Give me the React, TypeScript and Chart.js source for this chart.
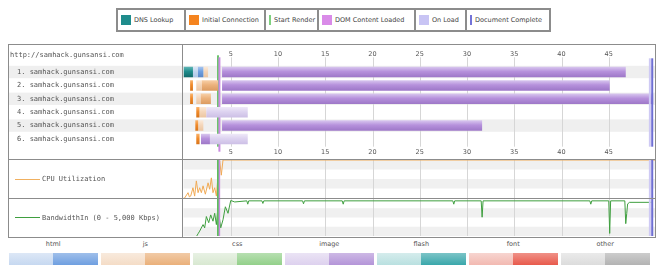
import React, { useEffect, useRef } from 'react';
import { Chart, registerables } from 'chart.js';

Chart.register(...registerables);

// ---------------- data ----------------
const pageUrl = 'http://samhack.gunsansi.com';
const rowLabels = [
  '1. samhack.gunsansi.com',
  '2. samhack.gunsansi.com',
  '3. samhack.gunsansi.com',
  '4. samhack.gunsansi.com',
  '5. samhack.gunsansi.com',
  '6. samhack.gunsansi.com',
];
const timeTicks = [5, 10, 15, 20, 25, 30, 35, 40, 45];
const timeMin = 0;
const timeMax = 50;

type Span = [number, number] | null;
const dnsLookup: Span[] = [[0, 1.0], null, null, null, null, null];
const initialConnection: Span[] = [null, [0.7, 1.0], [0.7, 1.0], [1.35, 1.7], [1.25, 1.55], [1.35, 1.7]];
const htmlTtfb: Span[] = [[1.0, 1.5], null, null, null, null, null];
const htmlDownload: Span[] = [[1.5, 2.1], null, null, null, null, null];
const jsTtfb: Span[] = [[2.1, 2.6], [1.35, 1.9], [1.35, 1.8], [1.75, 2.4], [1.55, 2.1], null];
const jsDownload: Span[] = [null, [1.9, 3.65], [1.8, 2.9], null, null, null];
const imageTtfb: Span[] = [null, null, null, [2.4, 6.8], null, [2.8, 6.8]];
const imageDownload: Span[] = [[4.08, 46.8], [4.08, 45.1], [4.08, 49.7], null, [4.08, 31.6], [1.85, 2.8]];

const startRender = 3.65;
const domContentLoaded = 3.8;
const onLoadTime = 49.35;
const documentComplete = 49.6;

const cpuTimes = [0, 0.12, 0.48, 0.62, 0.76, 1.0, 1.18, 1.36, 1.54, 1.71, 1.89, 2.07, 2.31, 2.6, 2.77, 2.95, 3.12, 3.3, 3.48, 3.65, 3.83, 4.0, 4.18, 50];
const cpuValues = [0, 0, 14, 3, 5, 27, 5, 45, 14, 27, 14, 32, 10, 40, 23, 53, 14, 27, 5, 58, 98, 60, 100, 100];
const cpuMax = 100;

const bwTimes = [1.4, 1.54, 1.71, 2.07, 2.24, 2.42, 2.67, 2.88, 3.12, 3.3, 3.48, 3.65, 3.94, 4.18, 4.43, 4.71, 5.0, 5.42, 6.7, 6.8, 6.9, 8.3, 8.4, 8.5, 12.6, 12.7, 12.8, 16.8, 16.9, 17.0, 28.5, 28.6, 28.7, 31.5, 31.6, 31.7, 43.0, 43.1, 43.2, 45.0, 45.1, 45.2, 46.7, 46.8, 46.9, 47.0, 47.2, 49.5];
const bwValues = [0, 300, 660, 1540, 1100, 2630, 1800, 2850, 2000, 3070, 1540, 3950, 1100, 2200, 3950, 3070, 4800, 4600, 4750, 4300, 4750, 4750, 4400, 4750, 4750, 4350, 4750, 4750, 4300, 4750, 4750, 4300, 4750, 4750, 2540, 4750, 4750, 4300, 4750, 4750, 350, 4750, 4750, 1670, 3030, 4340, 4550, 4550];
const bwMax = 5000;

const topLegend = [
  { label: 'DNS Lookup', color: '#1f8c8c', kind: 'box' },
  { label: 'Initial Connection', color: '#f5841f', kind: 'box' },
  { label: 'Start Render', color: '#7fd07f', kind: 'line' },
  { label: 'DOM Content Loaded', color: '#d98be8', kind: 'box' },
  { label: 'On Load', color: '#c8c4f4', kind: 'box' },
  { label: 'Document Complete', color: '#7373d8', kind: 'line' },
];
const topLegendWidths = [66, 80, 53, 97, 51, 84];

const typeLegend = [
  { label: 'html', light: '#c6d8f0', dark: '#6f9fe0' },
  { label: 'js', light: '#f4dcc6', dark: '#eab07a' },
  { label: 'css', light: '#d8e8d1', dark: '#93d08a' },
  { label: 'image', light: '#ddd1ee', dark: '#b495d8' },
  { label: 'flash', light: '#b9e0e0', dark: '#3aa7ab' },
  { label: 'font', light: '#f2b9b1', dark: '#e85a4c' },
  { label: 'other', light: '#dcdcdc', dark: '#b3b3b3' },
];

// ---------------- styles ----------------
const SANS = "'DejaVu Sans', Verdana, sans-serif";
const MONO = "'DejaVu Sans Mono', monospace";
const FRAME = '#8c8c8c';

function vline(ctx: any, x: number, top: number, bottom: number, color: string, width: number) {
  if (!isFinite(x)) return;
  ctx.save();
  ctx.strokeStyle = color;
  ctx.lineWidth = width;
  ctx.beginPath();
  ctx.moveTo(x, top);
  ctx.lineTo(x, bottom);
  ctx.stroke();
  ctx.restore();
}

const barFill = (light: string, base: string, dark: string) => (c: any) => {
  const chart = c.chart;
  const ys = chart.scales && chart.scales.y;
  if (!ys || c.dataIndex == null || c.type !== 'data') return base;
  const yc = ys.getPixelForValue(c.dataIndex);
  if (!isFinite(yc)) return base;
  const g = chart.ctx.createLinearGradient(0, yc - 5, 0, yc + 5);
  g.addColorStop(0, light);
  g.addColorStop(0.45, base);
  g.addColorStop(1, dark);
  return g;
};

const waterfallDecor = {
  id: 'waterfallDecor',
  beforeDraw(chart: any) {
    const { ctx, scales } = chart;
    const y = scales.y;
    const step = y.height / rowLabels.length;
    ctx.save();
    ctx.fillStyle = '#efefef';
    rowLabels.forEach((_, i) => {
      if (i % 2 === 0) {
        const c = y.getPixelForValue(i);
        ctx.fillRect(1, c - step / 2 + 0.5, chart.width - 1, step - 1);
      }
    });
    ctx.restore();
  },
  beforeDatasetsDraw(chart: any) {
    const { ctx, chartArea: a, scales } = chart;
    const x = scales.x;
    const top = a.top - 8;
    const bottom = a.bottom + 1;
    timeTicks.forEach((t) => vline(ctx, Math.round(x.getPixelForValue(t)) + 0.5, top, bottom, '#d6d6d6', 1));
    vline(ctx, x.getPixelForValue(startRender), top - 2, bottom, '#6cc46c', 2);
    vline(ctx, x.getPixelForValue(domContentLoaded), top, bottom + 5, '#c98ae0', 2);
  },
  afterDatasetsDraw(chart: any) {
    const { ctx, chartArea: a, scales } = chart;
    const x = scales.x;
    vline(ctx, x.getPixelForValue(onLoadTime), a.top - 7, a.bottom + 1, '#cfcaf4', 2);
    vline(ctx, x.getPixelForValue(documentComplete), a.top - 7, a.bottom + 1, '#6f6fd4', 2);
  },
};

const seriesDecor = (bandValues: number[], grayFirst: boolean) => ({
  id: 'seriesDecor',
  beforeDatasetsDraw(chart: any) {
    const { ctx, chartArea: a, scales } = chart;
    const x = scales.x;
    const y = scales.y;
    ctx.save();
    for (let i = 0; i < bandValues.length - 1; i++) {
      const gray = (i % 2 === 0) === grayFirst;
      if (!gray) continue;
      const y1 = y.getPixelForValue(bandValues[i]);
      const y2 = y.getPixelForValue(bandValues[i + 1]);
      ctx.fillStyle = '#f0f0f0';
      ctx.fillRect(a.left, y1, a.right - a.left, y2 - y1);
    }
    ctx.restore();
    timeTicks.forEach((t) => vline(ctx, Math.round(x.getPixelForValue(t)) + 0.5, a.top, a.bottom, '#d6d6d6', 1));
  },
  afterDatasetsDraw(chart: any) {
    const { ctx, chartArea: a, scales } = chart;
    const x = scales.x;
    vline(ctx, x.getPixelForValue(startRender), a.top, a.bottom, '#5cbf5c', 2);
    vline(ctx, x.getPixelForValue(domContentLoaded), a.top, a.bottom, '#c98ae0', 1.5);
    vline(ctx, x.getPixelForValue(onLoadTime), a.top, a.bottom, '#cfcaf4', 2);
    vline(ctx, x.getPixelForValue(documentComplete), a.top, a.bottom, '#6f6fd4', 2);
  },
});

const tickFont = { family: SANS, size: 6.5 };

function makeWaterfall(canvas: HTMLCanvasElement) {
  const ds = (label: string, data: Span[], light: string, base: string, dark: string) => ({
    label,
    data: data as any,
    backgroundColor: barFill(light, base, dark),
    borderWidth: 0,
    borderSkipped: false,
    grouped: false,
    barPercentage: 0.78,
    categoryPercentage: 1,
    xAxisID: 'x',
    yAxisID: 'y',
  });
  return new Chart(canvas, {
    type: 'bar',
    data: {
      labels: rowLabels,
      datasets: [
        ds('DNS Lookup', dnsLookup, '#5db5b5', '#1f8c8c', '#126c6c'),
        ds('Initial Connection', initialConnection, '#f9b26a', '#f08a2a', '#d8741a'),
        ds('html TTFB', htmlTtfb, '#dde8f6', '#c3d6ef', '#aec7e8'),
        ds('html', htmlDownload, '#a6c4ef', '#6f9fe0', '#5b88c8'),
        ds('js TTFB', jsTtfb, '#fbe9d8', '#f4d6ba', '#ecc6a2'),
        ds('js', jsDownload, '#f7cfa6', '#ecb27c', '#dc9c62'),
        ds('image TTFB', imageTtfb, '#eee8f8', '#ddd3f0', '#cdc0e6'),
        ds('image', imageDownload, '#d7c5ee', '#b691dc', '#9e78c8'),
      ],
    },
    options: {
      indexAxis: 'y',
      responsive: false,
      animation: false,
      events: [],
      layout: { padding: { left: 9, right: 0, top: 0, bottom: 0 } },
      plugins: { legend: { display: false }, tooltip: { enabled: false } },
      scales: {
        y: {
          type: 'category',
          position: 'left',
          grid: { display: false, drawTicks: false },
          border: { display: false },
          ticks: { crossAlign: 'far', padding: 0, autoSkip: false, font: { family: MONO, size: 7 }, color: '#555' },
          afterFit: (s: any) => { s.width = 166.5; },
        },
        x: {
          type: 'linear',
          position: 'top',
          min: timeMin,
          max: timeMax,
          grid: { display: false, drawTicks: false },
          border: { display: false },
          afterBuildTicks: (s: any) => { s.ticks = timeTicks.map((v) => ({ value: v })); },
          ticks: { padding: 6.6, maxRotation: 0, autoSkip: false, font: tickFont, color: '#555' },
          afterFit: (s: any) => { s.height = 20.3; },
        },
        x2: {
          type: 'linear',
          position: 'bottom',
          min: timeMin,
          max: timeMax,
          grid: { display: false, drawTicks: false },
          border: { display: false },
          afterBuildTicks: (s: any) => { s.ticks = timeTicks.map((v) => ({ value: v })); },
          ticks: { padding: 2.6, maxRotation: 0, autoSkip: false, font: tickFont, color: '#555' },
          afterFit: (s: any) => { s.height = 13.3; },
        },
      },
    } as any,
    plugins: [waterfallDecor],
  });
}

function makeSeries(canvas: HTMLCanvasElement, times: number[], values: number[], max: number, color: string, bands: number[], grayFirst: boolean, padTop: number, padBottom: number) {
  return new Chart(canvas, {
    type: 'line',
    data: {
      datasets: [
        {
          data: times.map((t, i) => ({ x: t, y: values[i] })),
          borderColor: color,
          borderWidth: 1,
          pointRadius: 0,
          tension: 0,
          fill: false,
        },
      ],
    },
    options: {
      responsive: false,
      animation: false,
      events: [],
      layout: { padding: { left: 175.5, right: 0, top: padTop, bottom: padBottom } },
      plugins: { legend: { display: false }, tooltip: { enabled: false } },
      scales: {
        x: { type: 'linear', min: timeMin, max: timeMax, display: false },
        y: { type: 'linear', min: 0, max, display: false },
      },
    } as any,
    plugins: [seriesDecor(bands, grayFirst)],
  });
}

const abs = (left: number, top: number, width: number, height: number, extra: any = {}) => ({
  position: 'absolute' as const, left, top, width, height, ...extra,
});

export default function App() {
  const wfRef = useRef<HTMLCanvasElement>(null);
  const cpuRef = useRef<HTMLCanvasElement>(null);
  const bwRef = useRef<HTMLCanvasElement>(null);

  useEffect(() => {
    const charts: Chart[] = [];
    if (wfRef.current) charts.push(makeWaterfall(wfRef.current));
    if (cpuRef.current) charts.push(makeSeries(cpuRef.current, cpuTimes, cpuValues, cpuMax, '#f0aa55', [100, 75, 50, 25, 0], true, 1, 0));
    if (bwRef.current) charts.push(makeSeries(bwRef.current, bwTimes, bwValues, bwMax, '#3f9f3f', [5000, 3750, 2500, 1250, 0], false, 1, 1));
    return () => charts.forEach((c) => c.destroy());
  }, []);

  return (
    <div style={{ position: 'absolute', left: 0, top: 0, width: 659, height: 275, background: '#fff', overflow: 'hidden' }}>
      {/* top legend */}
      <div style={{ position: 'absolute', left: 116, top: 8, height: 24, display: 'flex', border: `2px solid ${FRAME}`, boxSizing: 'border-box' }}>
        {topLegend.map((item, i) => (
          <div key={i} style={{ width: topLegendWidths[i], height: '100%', display: 'flex', alignItems: 'center', borderLeft: i ? `2px solid ${FRAME}` : 'none', paddingLeft: 3, boxSizing: 'border-box', gap: 3 }}>
            <span style={{ display: 'inline-block', width: item.kind === 'box' ? 10 : 2, height: 10, background: item.color, flex: 'none' }} />
            <span style={{ font: `6.5px ${SANS}`, color: '#444', whiteSpace: 'nowrap' }}>{item.label}</span>
          </div>
        ))}
      </div>

      {/* canvases */}
      <canvas ref={wfRef} width={648} height={114} style={abs(8, 45, 648, 114)} />
      <canvas ref={cpuRef} width={648} height={39} style={abs(8, 159, 648, 39)} />
      <canvas ref={bwRef} width={648} height={39} style={abs(8, 198, 648, 39)} />

      {/* frame */}
      <div style={abs(8, 44, 648, 1, { background: FRAME })} />
      <div style={abs(8, 158.5, 648, 1, { background: FRAME })} />
      <div style={abs(8, 198, 648, 1, { background: FRAME })} />
      <div style={abs(8, 237, 648, 1, { background: FRAME })} />
      <div style={abs(8, 44, 1, 194, { background: FRAME })} />
      <div style={abs(655, 44, 1, 194, { background: FRAME })} />
      <div style={abs(182, 44, 1, 194, { background: FRAME })} />

      {/* left column texts */}
      <div style={abs(10, 50, 170, 10, { font: `7px ${MONO}`, color: '#555', lineHeight: '10px', whiteSpace: 'nowrap' })}>{pageUrl}</div>
      <div style={abs(15, 178.5, 25, 1, { background: '#f0b060' })} />
      <div style={abs(42, 174, 130, 10, { font: `7px ${MONO}`, color: '#555', lineHeight: '10px', whiteSpace: 'nowrap' })}>CPU Utilization</div>
      <div style={abs(15, 217, 25, 1, { background: '#3f9f3f' })} />
      <div style={abs(42, 212.5, 138, 10, { font: `7px ${MONO}`, color: '#555', lineHeight: '10px', whiteSpace: 'nowrap' })}>BandwidthIn (0 - 5,000 Kbps)</div>

      {/* content-type legend */}
      <div style={{ position: 'absolute', left: 9, top: 239, display: 'flex', gap: 3.5 }}>
        {typeLegend.map((t, i) => (
          <div key={i} style={{ width: 88.5 }}>
            <div style={{ height: 11, textAlign: 'center', font: `6.5px ${SANS}`, color: '#555', lineHeight: '11px' }}>{t.label}</div>
            <div style={{ display: 'flex', height: 12, marginTop: 3 }}>
              <div style={{ flex: 1, background: `linear-gradient(${t.light}99, ${t.light})` }} />
              <div style={{ flex: 1, background: `linear-gradient(${t.dark}aa, ${t.dark})` }} />
            </div>
          </div>
        ))}
      </div>
    </div>
  );
}
